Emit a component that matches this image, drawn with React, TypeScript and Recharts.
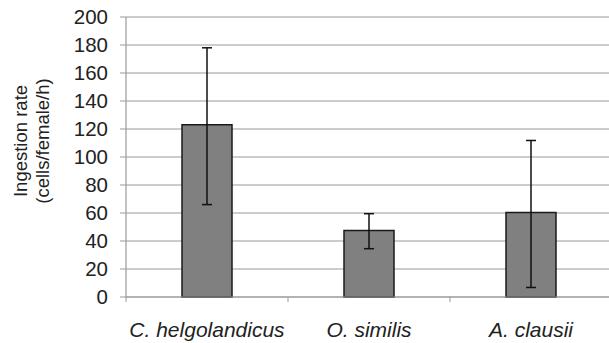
import React from 'react';
import { BarChart, Bar, XAxis, YAxis, CartesianGrid, ErrorBar } from 'recharts';

const species = ['C. helgolandicus', 'O. similis', 'A. clausii'];
const ingestion = [123, 47.5, 60.3];
const errLow = [57, 13, 53.5];
const errHigh = [55, 12, 51.5];
const yTicks = [0, 20, 40, 60, 80, 100, 120, 140, 160, 180, 200];

const data = species.map((name, i) => ({
  name,
  rate: ingestion[i],
  err: [errLow[i], errHigh[i]],
}));

const FONT = 'Liberation Sans, Arial, sans-serif';
const CHART_W = 614;
const CHART_H = 343;
const AXIS_W = 126;
const BAND = (CHART_W - AXIS_W - 2) / species.length;

// category labels plus the small tick marks that sit between categories
const CategoryTick = (props: any) => {
  const { x, y, payload, index } = props;
  return (
    <g>
      <line x1={x - BAND / 2} y1={y - 8} x2={x - BAND / 2} y2={y - 3} stroke="#999" />
      {index === species.length - 1 && (
        <line x1={x + BAND / 2} y1={y - 8} x2={x + BAND / 2} y2={y - 3} stroke="#999" />
      )}
      <text x={x} y={y + 32} textAnchor="middle" fontStyle="italic" fontSize={21} fill="#222" fontFamily={FONT}>
        {payload.value}
      </text>
    </g>
  );
};

const YLabel = () => (
  <text transform="translate(27, 141) rotate(-90)" textAnchor="middle" fontSize={18.5} fill="#222" fontFamily={FONT}>
    <tspan x={0} dy={0}>Ingestion rate</tspan>
    <tspan x={0} dy={22}>(cells/female/h)</tspan>
  </text>
);

export default function App() {
  return (
    <div style={{ position: 'absolute', left: 0, top: 0, width: 609, height: 343, overflow: 'hidden', background: '#fff' }}>
      <BarChart
        width={CHART_W}
        height={CHART_H}
        data={data}
        margin={{ top: 17, right: 2, bottom: 0, left: 0 }}
        barSize={50}
      >
        <CartesianGrid vertical={false} stroke="#999" strokeWidth={1.2} />
        <XAxis
          dataKey="name"
          height={46}
          tickLine={false}
          axisLine={{ stroke: '#999', strokeWidth: 1.2 }}
          tick={<CategoryTick />}
          interval={0}
        />
        <YAxis
          width={AXIS_W}
          domain={[0, 200]}
          ticks={yTicks}
          interval={0}
          tickSize={6}
          tickMargin={12}
          tickLine={{ stroke: '#999' }}
          axisLine={{ stroke: '#999', strokeWidth: 1.2 }}
          tick={{ fontSize: 20.5, fill: '#222', fontFamily: FONT }}
          label={<YLabel />}
        />
        <Bar dataKey="rate" fill="#808080" stroke="#1a1a1a" strokeWidth={1.5} isAnimationActive={false}>
          <ErrorBar dataKey="err" width={5} stroke="#111" strokeWidth={1.5} direction="y" />
        </Bar>
      </BarChart>
    </div>
  );
}
